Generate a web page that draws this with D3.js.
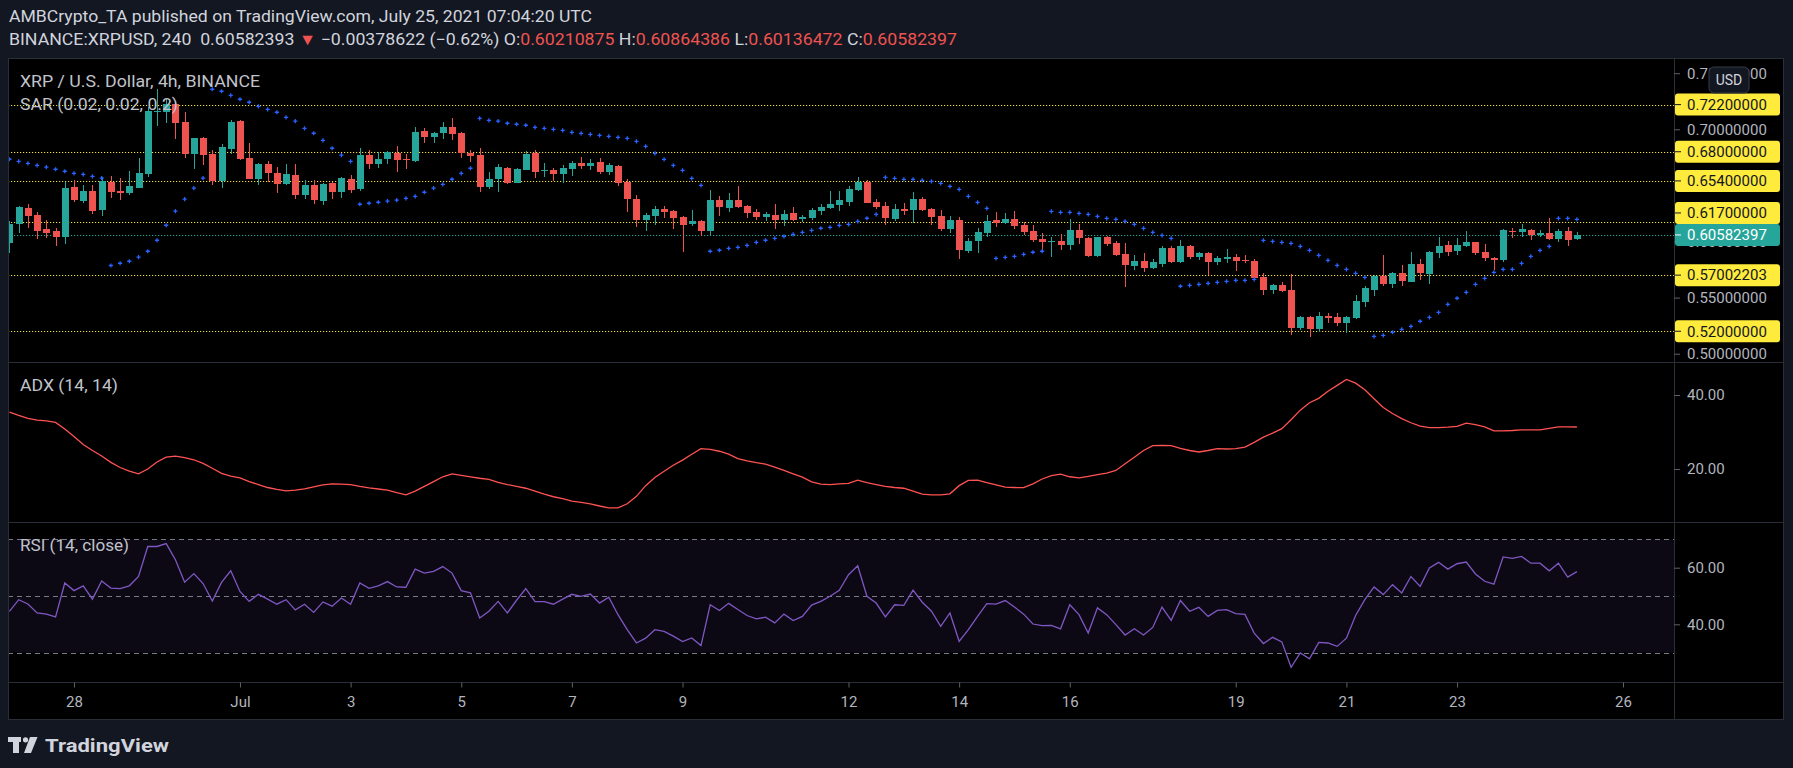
<!DOCTYPE html>
<html><head><meta charset="utf-8">
<script src="https://cdn.jsdelivr.net/npm/d3@7"></script>
<style>html,body{margin:0;padding:0;background:#131722;}svg{display:block}</style>
</head><body>
<svg id="c" width="1793" height="768"></svg>
<script>
// ---------- DATA ----------
const headerLine1 = "AMBCrypto_TA published on TradingView.com, July 25, 2021 07:04:20 UTC";
const symbolText = "BINANCE:XRPUSD, 240";
const lastTradeText = "0.60582393";
const changeText = "\u22120.00378622 (\u22120.62%)";
const ohlcLabels = ["O:", "H:", "L:", "C:"];
const ohlcValues = ["0.60210875", "0.60864386", "0.60136472", "0.60582397"];
const priceLegend = "XRP / U.S. Dollar, 4h, BINANCE";
const sarLegend = "SAR (0.02, 0.02, 0.2)";
const adxLegend = "ADX (14, 14)";
const rsiLegend = "RSI (14, close)";

const barStartISO = "2021-06-26T20:00:00Z";   // first visible 4h bar
const barStepHours = 4;

const opens = [.5990,.6160,.6299,.6237,.6112,.6094,.6044,.6486,.6362,.6451,
.6284,.6534,.6451,.6436,.6480,.6605,.7155,.7158,.7223,.7066,
.6783,.6923,.6780,.6543,.6828,.7074,.6745,.6558,.6691,.6611,
.6516,.6593,.6418,.6504,.6365,.6522,.6445,.6558,.6472,.6772,
.6688,.6736,.6789,.6739,.6721,.6985,.6935,.6965,.7021,.6968,
.6789,.6772,.6489,.6555,.6656,.6522,.6641,.6789,.6626,.6638,
.6605,.6649,.6700,.6676,.6709,.6622,.6673,.6530,.6379,.6195,
.6227,.6290,.6272,.6219,.6159,.6183,.6097,.6370,.6302,.6370,
.6317,.6263,.6221,.6236,.6195,.6254,.6201,.6213,.6275,.6302,
.6328,.6355,.6462,.6530,.6352,.6317,.6204,.6290,.6284,.6379,
.6290,.6227,.6115,.6192,.5919,.6008,.6079,.6192,.6168,.6201,
.6147,.6094,.6023,.5999,.6005,.5972,.6103,.6034,.5871,.6037,
.5987,.5889,.5782,.5826,.5764,.5800,.5942,.5817,.5960,.5862,
.5898,.5817,.5844,.5862,.5835,.5826,.5684,.5568,.5612,.5568,
.5229,.5327,.5220,.5336,.5327,.5274,.5318,.5461,.5568,.5693,
.5621,.5719,.5639,.5800,.5710,.5898,.5969,.5915,.5960,.5996,
.5906,.5853,.5835,.6094,.6085,.6102,.6058,.6076,.6022,.6094,
.60210875];
const highs = [.6183,.6320,.6335,.6264,.6192,.6124,.6534,.6546,.6504,.6504,
.6573,.6584,.6567,.6629,.6745,.7202,.7357,.7271,.7247,.7152,
.6925,.6932,.6816,.6870,.7083,.7083,.6878,.6697,.6718,.6668,
.6691,.6691,.6549,.6549,.6525,.6528,.6578,.6593,.6831,.6816,
.6801,.6807,.6852,.6780,.7021,.7009,.6972,.7063,.7101,.6979,
.6816,.6831,.6617,.6691,.6668,.6656,.6807,.6816,.6700,.6656,
.6682,.6717,.6753,.6735,.6744,.6700,.6682,.6554,.6415,.6251,
.6317,.6317,.6281,.6224,.6281,.6188,.6459,.6406,.6432,.6495,
.6326,.6290,.6263,.6334,.6281,.6308,.6236,.6299,.6334,.6450,
.6450,.6495,.6575,.6548,.6379,.6352,.6334,.6343,.6441,.6397,
.6295,.6281,.6227,.6219,.6031,.6123,.6236,.6263,.6254,.6272,
.6174,.6147,.6076,.6040,.6067,.6201,.6156,.6043,.6043,.6052,
.6004,.5987,.5880,.5898,.5844,.5960,.5960,.6013,.5969,.5906,
.5906,.5871,.5933,.5889,.5880,.5844,.5719,.5621,.5639,.5710,
.5336,.5336,.5372,.5363,.5363,.5336,.5523,.5604,.5702,.5880,
.5728,.5791,.5906,.5844,.5915,.6040,.6004,.6031,.6094,.6000,
.5978,.5862,.6111,.6120,.6156,.6111,.6102,.6209,.6111,.6129,
.60864386];
const lows = [.5901,.6080,.6124,.6026,.6035,.5964,.5982,.6356,.6344,.6249,
.6231,.6391,.6374,.6415,.6475,.6578,.7033,.7054,.6917,.6748,
.6650,.6685,.6507,.6480,.6777,.6727,.6555,.6507,.6534,.6436,
.6507,.6380,.6382,.6338,.6329,.6382,.6391,.6430,.6451,.6650,
.6656,.6694,.6623,.6650,.6709,.6875,.6881,.6917,.6908,.6748,
.6712,.6445,.6472,.6445,.6516,.6518,.6636,.6570,.6578,.6543,
.6524,.6584,.6649,.6640,.6605,.6596,.6498,.6263,.6129,.6097,
.6150,.6213,.6115,.5910,.6141,.6052,.6061,.6230,.6266,.6299,
.6213,.6195,.6186,.6115,.6141,.6186,.6171,.6195,.6239,.6293,
.6275,.6320,.6453,.6340,.6293,.6150,.6186,.6239,.6168,.6275,
.6150,.6097,.6079,.5847,.5901,.5901,.6043,.6132,.6159,.6115,
.6061,.5999,.5910,.5865,.5927,.5927,.5981,.5865,.5862,.5963,
.5871,.5595,.5746,.5728,.5755,.5773,.5808,.5808,.5844,.5835,
.5702,.5791,.5808,.5737,.5808,.5670,.5523,.5532,.5550,.5167,
.5211,.5149,.5194,.5274,.5247,.5185,.5310,.5416,.5514,.5604,
.5586,.5604,.5635,.5657,.5621,.5853,.5871,.5880,.5951,.5880,
.5826,.5746,.5817,.6031,.6040,.6013,.6040,.6013,.5996,.5960,
.60136472];
const closes = [.6157,.6308,.6231,.6097,.6080,.6044,.6478,.6371,.6451,.6276,
.6540,.6445,.6436,.6495,.6611,.7167,.7167,.7223,.7060,.6783,
.6920,.6772,.6543,.6843,.7066,.6736,.6561,.6691,.6614,.6516,
.6599,.6418,.6504,.6374,.6513,.6445,.6567,.6463,.6772,.6694,
.6736,.6798,.6730,.6724,.6976,.6935,.6968,.7021,.6962,.6792,
.6766,.6489,.6558,.6662,.6522,.6647,.6780,.6623,.6638,.6605,
.6655,.6700,.6676,.6700,.6622,.6682,.6524,.6382,.6195,.6236,
.6290,.6266,.6213,.6150,.6183,.6097,.6370,.6308,.6370,.6308,
.6257,.6221,.6245,.6195,.6245,.6195,.6219,.6281,.6308,.6334,
.6370,.6468,.6530,.6346,.6311,.6213,.6290,.6275,.6379,.6284,
.6221,.6115,.6192,.5927,.6005,.6085,.6183,.6168,.6201,.6141,
.6088,.6014,.5999,.6005,.5972,.6103,.6034,.5874,.6037,.5981,
.5880,.5791,.5826,.5764,.5817,.5942,.5817,.5960,.5862,.5898,
.5817,.5853,.5862,.5826,.5826,.5675,.5568,.5612,.5559,.5229,
.5327,.5220,.5336,.5321,.5274,.5327,.5470,.5586,.5693,.5621,
.5719,.5648,.5800,.5719,.5906,.5960,.5906,.5969,.5996,.5898,
.5853,.5835,.6102,.6088,.6111,.6058,.6076,.6022,.6094,.6013,
.60582397];
const sar = [.6733,.6715,.6697,.6679,.6662,.6644,.6626,.6608,.6599,.6581,
.6564,.5786,.5806,.5824,.5860,.5913,.6011,.6145,.6270,.6377,
.6475,.6564,.7357,.7339,.7303,.7268,.7241,.7205,.7178,.7152,
.7107,.7072,.7009,.6965,.6902,.6831,.6769,.6715,.6332,.6341,
.6350,.6359,.6368,.6385,.6403,.6439,.6475,.6510,.6555,.6608,
.6653,.7098,.7080,.7072,.7054,.7045,.7036,.7018,.7009,.7000,
.6991,.6973,.6964,.6955,.6946,.6937,.6928,.6919,.6893,.6848,
.6786,.6732,.6679,.6634,.6563,.6501,.5913,.5922,.5939,.5948,
.5966,.5993,.6011,.6028,.6046,.6064,.6082,.6100,.6118,.6126,
.6144,.6153,.6180,.6207,.6242,.6572,.6563,.6554,.6554,.6545,
.6536,.6518,.6492,.6465,.6403,.6349,.6296,.5850,.5859,.5868,
.5886,.5904,.5913,.6269,.6260,.6260,.6251,.6242,.6224,.6206,
.6198,.6180,.6153,.6117,.6082,.6055,.6028,.5601,.5609,.5618,
.5627,.5636,.5645,.5654,.5654,.5663,.6010,.6002,.5993,.5984,
.5957,.5921,.5877,.5832,.5788,.5752,.5716,.5681,.5155,.5164,
.5191,.5217,.5244,.5289,.5324,.5369,.5440,.5494,.5547,.5618,
.5672,.5725,.5752,.5752,.5805,.5868,.5921,.5957,.6206,.6206,
.6198];
const adx = [35.4,34.5,33.7,33.2,33.0,32.6,30.8,28.8,26.6,25.0,
23.5,21.8,20.4,19.4,18.7,20.0,21.9,23.2,23.5,23.1,
22.5,21.5,20.2,18.8,18.1,17.6,16.6,15.8,15.0,14.5,
14.1,14.3,14.6,15.2,15.7,16.0,15.9,15.8,15.3,14.9,
14.6,14.3,13.6,13.0,14.0,15.3,16.6,17.9,18.7,18.3,
17.9,17.5,17.2,16.4,15.8,15.3,14.8,14.0,13.2,12.5,
12.0,11.3,11.0,10.6,10.0,9.5,9.5,10.6,12.6,15.5,
17.7,19.4,21.0,22.4,24.0,25.5,25.3,24.8,24.0,22.8,
22.2,21.7,21.3,20.5,19.6,18.7,17.8,16.5,15.9,15.8,
16.0,16.1,17.0,16.3,15.8,15.3,15.0,14.8,14.0,13.2,
13.0,13.0,13.3,15.5,16.9,17.0,16.3,15.7,15.1,15.0,
14.95,16.0,17.3,18.2,18.6,17.9,17.6,18.0,18.5,18.9,
19.6,21.4,23.2,25.0,26.3,26.4,26.3,25.6,25.0,24.6,
25.0,25.5,25.4,25.5,25.9,27.2,28.6,29.7,30.9,33.3,
35.9,37.9,39.1,41.0,42.6,44.2,43.2,41.4,39.0,36.6,
35.0,33.6,32.5,31.6,31.2,31.2,31.3,31.5,32.4,32.0,
31.4,30.3,30.3,30.4,30.6,30.6,30.6,31.0,31.4,31.4,
31.35];
const rsi = [44.6,48.7,47.2,44.0,43.6,42.6,54.6,51.9,53.6,48.9,
55.3,52.8,52.6,53.6,56.9,67.5,67.5,68.5,62.8,54.9,
57.9,54.4,48.2,54.8,58.9,51.6,48.1,50.6,48.9,47.1,
48.7,45.1,47.1,44.2,47.9,46.4,49.3,47.1,54.6,52.7,
53.6,55.1,53.2,53.1,59.5,58.1,58.7,60.4,58.1,51.9,
51.1,42.2,44.6,48.1,44.0,48.5,52.6,48.0,48.0,47.1,
48.9,50.6,49.9,50.7,47.5,49.6,43.4,38.1,33.4,35.1,
38.1,37.5,35.8,33.9,35.2,32.5,46.9,44.9,47.4,45.2,
43.1,41.9,42.5,40.5,43.6,41.3,42.8,46.8,48.1,49.9,
52.0,57.5,60.7,49.9,47.5,42.6,46.9,46.7,52.1,47.8,
44.6,39.3,44.0,34.0,38.1,42.8,47.3,47.1,48.4,46.1,
43.6,40.1,39.5,39.6,38.4,46.9,43.4,36.9,45.8,43.4,
39.9,36.2,38.4,36.2,38.9,46.1,41.4,48.4,44.6,46.0,
42.8,44.9,45.2,43.8,43.5,36.9,33.2,35.4,33.8,24.8,
29.9,27.8,33.6,33.4,32.2,35.1,43.1,48.7,53.2,50.5,
54.0,51.1,56.9,53.4,59.9,61.9,59.5,61.4,62.0,57.8,
55.2,54.2,63.8,63.3,64.0,61.6,61.6,58.9,61.6,56.7,
58.6];

const timeTickDates = ["2021-06-28","2021-07-01","2021-07-03","2021-07-05","2021-07-07","2021-07-09",
  "2021-07-12","2021-07-14","2021-07-16","2021-07-19","2021-07-21","2021-07-23","2021-07-26"];
const timeTickLabels = ["28","Jul","3","5","7","9","12","14","16","19","21","23","26"];
const priceTicks = [0.50, 0.55, 0.60, 0.70, 0.75];
const levelPrices = [0.722, 0.68, 0.654, 0.617, 0.57002203, 0.52];
const lastPrice = 0.60582397;
const adxTicks = [20, 40];
const rsiTicks = [40, 60];
const rsiLevels = [70, 50, 30];

// ---------- LAYOUT ----------
const W = 1793, H = 768;
const L = 8, R = 1784, AX = 1674, T = 58.5, S1 = 362.5, S2 = 522.5, S3 = 682.5, B = 719;
const FONT = "Roboto, 'Liberation Sans', Arial, sans-serif";
const UP = "#26a69a", DOWN = "#ef5350", GRID = "#2a2e39", TXT = "#b2b5be";

const svg = d3.select("#c");
svg.append("rect").attr("width", W).attr("height", H).attr("fill", "#131722");
svg.append("rect").attr("x", L).attr("y", T).attr("width", R - L).attr("height", B - T).attr("fill", "#000");

const t0 = new Date(barStartISO).getTime();
const dates = opens.map((_, i) => new Date(t0 + i * barStepHours * 3600e3));

const x = d3.scaleUtc()
  .domain([new Date("2021-06-28T00:00:00Z"), new Date("2021-07-26T00:00:00Z")])
  .range([74, 1623]);
const y = d3.scaleLinear().domain([0.50, 0.70]).range([353.7, 129.3]);
const yA = d3.scaleLinear().domain([20, 40]).range([469, 395]);
const yR = d3.scaleLinear().domain([40, 60]).range([624.3, 567.7]);

const defs = svg.append("defs");
[["cp1", T, S1], ["cp2", S1, S2], ["cp3", S2, S3]].forEach(([id, a, b]) => {
  defs.append("clipPath").attr("id", id).append("rect")
    .attr("x", L).attr("y", a).attr("width", AX - L).attr("height", b - a);
});

// ---------- PRICE PANE ----------
const gP = svg.append("g").attr("clip-path", "url(#cp1)");
gP.selectAll("line.lvl").data(levelPrices).join("line")
  .attr("x1", L).attr("x2", AX)
  .attr("y1", d => Math.round(y(d)) + 0.5).attr("y2", d => Math.round(y(d)) + 0.5)
  .attr("stroke", "#f2e03c").attr("stroke-width", 1.2).attr("stroke-dasharray", "1.2,1.8");
gP.append("line").attr("x1", L).attr("x2", AX)
  .attr("y1", Math.round(y(lastPrice)) + 0.5).attr("y2", Math.round(y(lastPrice)) + 0.5)
  .attr("stroke", UP).attr("stroke-width", 1.2).attr("stroke-dasharray", "1.2,1.8");

const candles = opens.map((o, i) => ({ d: dates[i], o, h: highs[i], l: lows[i], c: closes[i] }));
const cg = gP.append("g").attr("shape-rendering", "crispEdges");
cg.selectAll("line.wick").data(candles).join("line")
  .attr("x1", d => Math.round(x(d.d)) + 0.5).attr("x2", d => Math.round(x(d.d)) + 0.5)
  .attr("y1", d => y(d.h)).attr("y2", d => y(d.l))
  .attr("stroke", d => d.c >= d.o ? UP : DOWN).attr("stroke-width", 1);
cg.selectAll("rect.body").data(candles).join("rect")
  .attr("x", d => Math.round(x(d.d)) - 3).attr("width", 7)
  .attr("y", d => y(Math.max(d.o, d.c)))
  .attr("height", d => Math.max(1, Math.abs(y(d.o) - y(d.c))))
  .attr("fill", d => d.c >= d.o ? UP : DOWN);

gP.selectAll("path.sar").data(sar).join("path")
  .attr("d", (v, i) => {
    const cx = x(dates[i]), cy = y(v), s = 2.1;
    return `M${cx - s},${cy}H${cx + s}M${cx},${cy - s}V${cy + s}`;
  })
  .attr("stroke", "#2962ff").attr("stroke-width", 1.3).attr("fill", "none");

// ---------- ADX PANE ----------
const gA = svg.append("g").attr("clip-path", "url(#cp2)");
gA.append("path").datum(adx)
  .attr("d", d3.line().x((v, i) => x(dates[i])).y(v => yA(v)))
  .attr("fill", "none").attr("stroke", "#ff5252").attr("stroke-width", 1.3);

// ---------- RSI PANE ----------
const gR = svg.append("g").attr("clip-path", "url(#cp3)");
gR.append("rect").attr("x", L).attr("width", AX - L)
  .attr("y", yR(rsiLevels[0])).attr("height", yR(rsiLevels[2]) - yR(rsiLevels[0]))
  .attr("fill", "rgba(126,87,194,0.1)");
gR.selectAll("line.rl").data(rsiLevels).join("line")
  .attr("x1", L).attr("x2", AX)
  .attr("y1", d => Math.round(yR(d)) + 0.5).attr("y2", d => Math.round(yR(d)) + 0.5)
  .attr("stroke", "#787b86").attr("stroke-width", 1).attr("stroke-dasharray", "5,4");
gR.append("path").datum(rsi)
  .attr("d", d3.line().x((v, i) => x(dates[i])).y(v => yR(v)))
  .attr("fill", "none").attr("stroke", "#7e57c2").attr("stroke-width", 1.3);

// ---------- FRAME / SEPARATORS ----------
const fr = svg.append("g").attr("stroke", GRID).attr("stroke-width", 1).attr("shape-rendering", "crispEdges");
[S1, S2, S3].forEach(v => fr.append("line").attr("x1", L).attr("x2", R).attr("y1", v).attr("y2", v));
fr.append("line").attr("x1", AX + 0.5).attr("x2", AX + 0.5).attr("y1", T).attr("y2", B);
fr.append("rect").attr("x", L + 0.5).attr("y", T).attr("width", R - L - 1).attr("height", B - T).attr("fill", "none");

// ---------- AXES ----------
function styleAxis(g) {
  g.select(".domain").remove();
  g.attr("font-family", FONT).attr("font-size", 15);
  g.selectAll(".tick line").attr("stroke", "#5d606b");
  g.selectAll(".tick text").attr("fill", TXT);
}
svg.append("g").attr("transform", `translate(${AX},0)`)
  .call(d3.axisRight(y).tickValues(priceTicks).tickFormat(d3.format(".8f")).tickSize(6).tickPadding(7))
  .call(styleAxis);
svg.append("g").attr("transform", `translate(${AX},0)`)
  .call(d3.axisRight(yA).tickValues(adxTicks).tickFormat(d3.format(".2f")).tickSize(6).tickPadding(7))
  .call(styleAxis);
svg.append("g").attr("transform", `translate(${AX},0)`)
  .call(d3.axisRight(yR).tickValues(rsiTicks).tickFormat(d3.format(".2f")).tickSize(6).tickPadding(7))
  .call(styleAxis);
const tickDates = timeTickDates.map(s => new Date(s + "T00:00:00Z"));
svg.append("g").attr("transform", `translate(0,${S3})`)
  .call(d3.axisBottom(x).tickValues(tickDates).tickFormat((d, i) => timeTickLabels[i]).tickSize(5).tickPadding(9))
  .call(styleAxis);

// ---------- PRICE LABELS ----------
const yLast = y(lastPrice);
const lab = svg.append("g").attr("font-family", FONT).attr("font-size", 15);
levelPrices.forEach(p => {
  let ly = y(p);
  if (Math.abs(ly - yLast) < 22) ly = ly < yLast ? yLast - 22 : yLast + 22;
  lab.append("rect").attr("x", AX + 1).attr("y", ly - 11).attr("width", 105).attr("height", 22)
    .attr("rx", 3).attr("fill", "#ffeb3b");
  lab.append("line").attr("x1", AX + 1).attr("x2", AX + 7).attr("y1", ly).attr("y2", ly)
    .attr("stroke", "#131722").attr("stroke-width", 1);
  lab.append("text").attr("x", AX + 13).attr("y", ly).attr("dy", "0.35em")
    .attr("fill", "#131722").text(d3.format(".8f")(p));
});
lab.append("rect").attr("x", AX + 1).attr("y", yLast - 11).attr("width", 105).attr("height", 22)
  .attr("rx", 3).attr("fill", UP);
lab.append("line").attr("x1", AX + 1).attr("x2", AX + 7).attr("y1", yLast).attr("y2", yLast)
  .attr("stroke", "#ffffff").attr("stroke-width", 1);
lab.append("text").attr("x", AX + 13).attr("y", yLast).attr("dy", "0.35em")
  .attr("fill", "#ffffff").text(d3.format(".8f")(lastPrice));

// USD badge
svg.append("rect").attr("x", 1709).attr("y", 67).attr("width", 40).attr("height", 26).attr("rx", 5)
  .attr("fill", "#131722").attr("stroke", "#363a45");
svg.append("text").attr("x", 1729).attr("y", 80).attr("dy", "0.35em").attr("text-anchor", "middle")
  .attr("font-family", FONT).attr("font-size", 14).attr("fill", "#d1d4dc").text("USD");

// ---------- LEGENDS ----------
const leg = svg.append("g").attr("font-family", FONT).attr("fill", "#c0c3cb");
leg.append("text").attr("x", 20).attr("y", 87).attr("font-size", 17)
  .attr("textLength", 240).attr("lengthAdjust", "spacingAndGlyphs").text(priceLegend);
leg.append("text").attr("x", 20).attr("y", 110).attr("font-size", 17)
  .attr("textLength", 158).attr("lengthAdjust", "spacingAndGlyphs").text(sarLegend);
leg.append("text").attr("x", 20).attr("y", 391).attr("font-size", 16)
  .attr("textLength", 98).attr("lengthAdjust", "spacingAndGlyphs").text(adxLegend);
leg.append("text").attr("x", 20).attr("y", 551).attr("font-size", 16)
  .attr("textLength", 109).attr("lengthAdjust", "spacingAndGlyphs").text(rsiLegend);

// ---------- HEADER ----------
const hdr = svg.append("g").attr("font-family", FONT).attr("font-size", 16).attr("fill", "#d1d4dc");
hdr.append("text").attr("x", 9).attr("y", 22).attr("textLength", 583).attr("lengthAdjust", "spacingAndGlyphs")
  .text(headerLine1);
const h2 = hdr.append("text").attr("x", 9).attr("y", 45).attr("textLength", 948)
  .attr("lengthAdjust", "spacingAndGlyphs").style("white-space", "pre");
h2.append("tspan").text(symbolText + "  " + lastTradeText + " ");
h2.append("tspan").attr("fill", DOWN).text("\u25BC");
h2.append("tspan").text(" " + changeText + " ");
ohlcLabels.forEach((lb, i) => {
  h2.append("tspan").text((i ? " " : "") + lb);
  h2.append("tspan").attr("fill", DOWN).text(ohlcValues[i]);
});

// ---------- LOGO ----------
const logo = svg.append("g").attr("fill", "#d1d4dc");
logo.append("path").attr("d", "M8,737H21V742H19V753H13V742H8Z");
logo.append("circle").attr("cx", 25.5).attr("cy", 739.8).attr("r", 2.6);
logo.append("path").attr("d", "M30,737H37.5L31,753H24Z");
logo.append("text").attr("x", 45).attr("y", 752).attr("font-family", FONT).attr("font-weight", "bold")
  .attr("font-size", 19).attr("textLength", 124).attr("lengthAdjust", "spacingAndGlyphs").text("TradingView");
</script>
</body></html>
